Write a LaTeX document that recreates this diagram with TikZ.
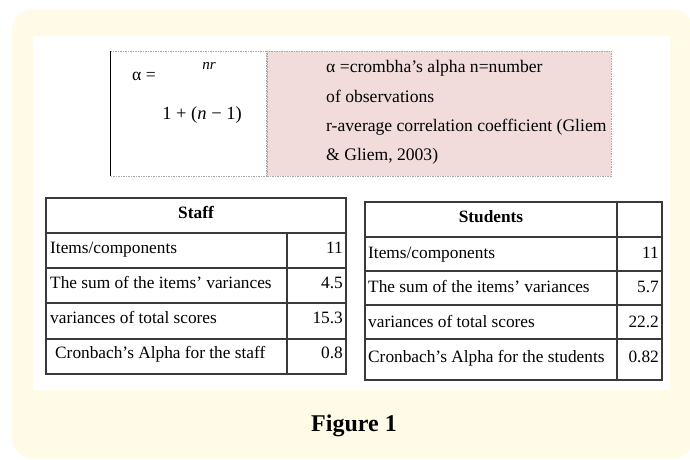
\documentclass[tikz,border=0pt]{standalone}
\usepackage{fontspec}
\setmainfont{Liberation Serif}
\definecolor{cream}{HTML}{FFFBE7}
\definecolor{pinkbg}{HTML}{F2DCDB}
\definecolor{rule}{HTML}{3A3A3A}
\begin{document}
\begin{tikzpicture}[x=1pt,y=-1pt,
  txt/.style={font=\fontsize{17.3}{19}\selectfont, inner sep=0pt},
  left/.style={txt, anchor=base west},
  right/.style={txt, anchor=base east},
  note/.style={left, font=\fontsize{17.6}{20}\selectfont},
  head/.style={txt, anchor=base, font=\fontsize{17.3}{19}\selectfont\bfseries},
  grid/.style={draw=rule, line width=1.1pt},
  dotbox/.style={draw=gray!70, line width=0.8pt, dash pattern=on 1.5pt off 1pt}]
\useasboundingbox (0,0) rectangle (690,460);

% panel background
\fill[cream, rounded corners=22pt] (12,9) rectangle (694,459);
\fill[white] (33,36) rectangle (670,390);

% formula box
\fill[pinkbg] (267,51) rectangle (611,176);
\draw[dotbox] (267,51) rectangle (611,176);
\draw[dotbox] (110,51) -- (266,51) -- (266,176) -- (110,176);
\draw[black, line width=1pt] (110,51) -- (110,176);

\node[note] (alpha) at (132,81) {α =};
\node[txt, anchor=base, font=\fontsize{15}{16}\selectfont\itshape] (num) at (209,69) {nr};
\node[txt, anchor=base, font=\fontsize{18.5}{20}\selectfont] (den) at (202,119) {1 + (\textit{n} − 1)};

\node[note] (d1) at (326,73) {α =crombha’s alpha n=number};
\node[note] (d2) at (326,102) {of observations};
\node[note] (d3) at (326,131) {r-average correlation coefficient (Gliem};
\node[note] (d4) at (326,160) {\& Gliem, 2003)};

% staff table
\draw[grid] (46,198) rectangle (346,374);
\foreach \y in {233,268,303,339} \draw[grid] (46,\y) -- (346,\y);
\draw[grid] (287,233) -- (287,374);
\node[head] (sh) at (196,218) {Staff};
\node[left] (s1) at (50,253) {Items/components};
\node[left] (s2) at (50,288) {The sum of the items’ variances};
\node[left] (s3) at (50,323) {variances of total scores};
\node[left] (s4) at (55,358) {Cronbach’s Alpha for the staff};
\node[right] (v1) at (343,253) {11};
\node[right] (v2) at (343,288) {4.5};
\node[right] (v3) at (343,323) {15.3};
\node[right] (v4) at (343,358) {0.8};

% students table
\draw[grid] (365,202) rectangle (662,380);
\foreach \y in {237,271,305,339} \draw[grid] (365,\y) -- (662,\y);
\draw[grid] (617,202) -- (617,380);
\node[head] (th) at (491,222) {Students};
\node[left] (t1) at (368,258) {Items/components};
\node[left] (t2) at (368,292) {The sum of the items’ variances};
\node[left] (t3) at (368,327) {variances of total scores};
\node[left] (t4) at (368,362) {Cronbach’s Alpha for the students};
\node[right] (w1) at (659,258) {11};
\node[right] (w2) at (659,292) {5.7};
\node[right] (w3) at (659,327) {22.2};
\node[right] (w4) at (659,362) {0.82};

% caption
\node[anchor=base, inner sep=0pt, font=\fontsize{24}{28}\selectfont\bfseries] (cap) at (354,431) {Figure 1};
\end{tikzpicture}
\end{document}
